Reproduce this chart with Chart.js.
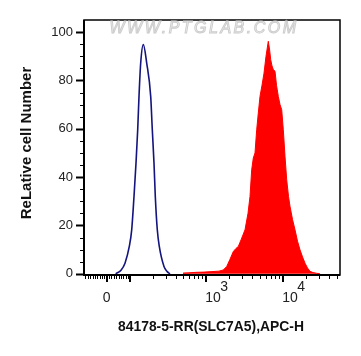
<!DOCTYPE html>
<html>
<head>
<meta charset="utf-8">
<script src="https://cdn.jsdelivr.net/npm/chart.js@4.4.1/dist/chart.umd.min.js"></script>
<style>
	body { margin: 0; background: #fff; }
	#wrap { width: 361px; height: 356px; }
</style>
</head>
<body>
<div id="wrap"><canvas id="canvas01" width="361" height="356"></canvas></div>
<script>
//x values are display channels (0..256) of the biexponential APC-H axis
var controlX = [31.7, 37, 41, 45.3, 47.7, 50, 52, 53.7, 55, 56.7, 59.3, 62.7, 66.7, 68.3, 70, 71.3, 73.3, 75.3, 80, 83, 86];
var controlY = [0, 1.5, 4.4, 11.3, 18.2, 32, 45.8, 59.6, 73.4, 87.2, 94.8, 87.2, 73.4, 59.6, 45.8, 32, 18.2, 11.3, 3, 1, 0];

var stainedX = [99, 105, 112, 120, 128, 135, 139.3, 142.7, 146, 149.3,
	152, 154.3, 157, 161, 164, 166, 167.7, 169.3, 171, 172.7,
	174.3, 176, 178, 180, 182, 184.3, 185.5, 186.7, 188, 189.3,
	191, 192.5, 194.3, 196, 197.7, 199.3, 201, 202.7, 204.5, 206,
	208.5, 211, 213.5, 216, 218.5, 221, 223.5, 226, 229, 232.7, 236];
var stainedY = [0.3, 0.4, 0.6, 0.7, 0.9, 1.1, 1.6, 3, 6, 9.2,
	10.5, 11.3, 14, 18.2, 25, 32, 43, 47.9, 50, 59.6,
	66.5, 73.4, 78, 83, 90, 96.2, 93, 88.6, 86, 84.5,
	83.8, 78, 73.4, 70, 67.9, 59.6, 48.6, 38.9, 32, 27.9,
	22.5, 18.2, 13.5, 9.9, 7, 4.4, 2.4, 1, 0.5, 0.2, 0];

var yTicks = [0, 20, 40, 60, 80, 100];
var xMajorValues = [0, 100, 1000, 10000];
var xMajorLabels = [['0', ''], ['', ''], ['10', '3'], ['10', '4']];

//fluorescence value -> display channel
function toChannel(v) {
	if (v >= 10000) {
		return 198.7 + Math.log10(v / 10000) * 77;
	}
	if (v >= 1000) {
		return 121.7 + Math.log10(v / 1000) * 77;
	}
	if (v >= 100) {
		return 46.3 + Math.log10(v / 100) * 75.4;
	}
	return 22.7 + v * 0.236;
}

function points(xs, ys) {
	var out = [];
	for (var i = 0; i < xs.length; i++) {
		out.push({x: xs[i], y: ys[i]});
	}
	return out;
}

var FONT = '"Liberation Sans", Arial, sans-serif';

var axesPlugin = {
	id: 'flowAxes',
	beforeDraw: function(chart) {
		var ctx = chart.ctx;
		ctx.save();
		ctx.fillStyle = '#fff';
		ctx.fillRect(0, 0, chart.width, chart.height);
		ctx.restore();
	},
	afterDraw: function(chart) {
		var ctx = chart.ctx;
		var area = chart.chartArea;
		var xs = chart.scales.x, ys = chart.scales.y;
		ctx.save();
		ctx.letterSpacing = '0px';

		//frame
		ctx.strokeStyle = '#000';
		ctx.lineWidth = 1.5;
		ctx.strokeRect(area.left, area.top, area.right - area.left, area.bottom - area.top);
		ctx.lineWidth = 2;
		ctx.beginPath();
		ctx.moveTo(area.left, area.top);
		ctx.lineTo(area.left, area.bottom);
		ctx.lineTo(area.right, area.bottom);
		ctx.stroke();

		//y ticks, minor every 5
		for (var v = 0; v <= 100; v += 5) {
			var py = Math.round(ys.getPixelForValue(v)) + 0.5;
			var major = (v % 20 === 0);
			ctx.lineWidth = major ? 2 : 1;
			ctx.beginPath();
			ctx.moveTo(area.left, py);
			ctx.lineTo(area.left - (major ? 8 : 4), py);
			ctx.stroke();
		}
		ctx.fillStyle = '#222';
		ctx.font = '13px ' + FONT;
		ctx.textAlign = 'right';
		ctx.textBaseline = 'middle';
		for (var i = 0; i < yTicks.length; i++) {
			ctx.fillText(String(yTicks[i]), 73, ys.getPixelForValue(yTicks[i]));
		}

		//x ticks: minor ticks at 1..9 of each decade, mirrored below zero
		var minor = [];
		for (var k = 1; k <= 9; k++) {
			minor.push(k * 10, -k * 10, k * 100, k * 1000, k * 10000);
		}
		ctx.lineWidth = 1;
		for (i = 0; i < minor.length; i++) {
			var c = toChannel(minor[i]);
			if (c < 0.5 || c > 255.5) {
				continue;
			}
			var px = Math.round(xs.getPixelForValue(c)) + 0.5;
			ctx.beginPath();
			ctx.moveTo(px, area.bottom);
			ctx.lineTo(px, area.bottom + 4);
			ctx.stroke();
		}
		ctx.lineWidth = 2;
		for (i = 0; i < xMajorValues.length; i++) {
			var mx = Math.round(xs.getPixelForValue(toChannel(xMajorValues[i])));
			ctx.beginPath();
			ctx.moveTo(mx, area.bottom);
			ctx.lineTo(mx, area.bottom + 7);
			ctx.stroke();
		}

		//x tick labels with superscript exponents
		ctx.font = '14px ' + FONT;
		ctx.textBaseline = 'middle';
		for (i = 0; i < xMajorValues.length; i++) {
			var base = xMajorLabels[i][0], sup = xMajorLabels[i][1];
			if (!base) {
				continue;
			}
			var lx = xs.getPixelForValue(toChannel(xMajorValues[i]));
			if (!sup) {
				ctx.textAlign = 'center';
				ctx.fillText(base, lx, 298);
				continue;
			}
			ctx.textAlign = 'left';
			var left = lx - 0.5;
			ctx.fillText(base, left, 298);
			ctx.fillText(sup, left + ctx.measureText(base).width - 0.5, 287);
		}

		//axis titles
		ctx.fillStyle = '#111';
		ctx.font = 'bold 15px ' + FONT;
		ctx.textAlign = 'center';
		ctx.textBaseline = 'middle';
		var title = '84178-5-RR(SLC7A5),APC-H';
		var sx = 186 / ctx.measureText(title).width;
		ctx.save();
		ctx.translate(211, 327);
		ctx.scale(sx, 1);
		ctx.fillText(title, 0, 0);
		ctx.restore();

		ctx.save();
		ctx.translate(27, 143);
		ctx.rotate(-Math.PI / 2);
		ctx.fillText('ReLative cell Number', 0, 0);
		ctx.restore();

		//watermark, hollow light grey letters
		ctx.font = 'italic 16px ' + FONT;
		ctx.textAlign = 'center';
		ctx.letterSpacing = '2.5px';
		ctx.fillStyle = '#fafafa';
		ctx.strokeStyle = '#cdcdcd';
		ctx.lineWidth = 1;
		ctx.fillText('WWW.PTGLAB.COM', 204, 28.5);
		ctx.strokeText('WWW.PTGLAB.COM', 204, 28.5);

		ctx.restore();
	}
};

var chart = new Chart(document.getElementById('canvas01'), {
	type: 'line',
	data: {
		datasets: [
		{
			data: points(stainedX, stainedY),
			borderColor: '#ff0000',
			backgroundColor: '#ff0000',
			borderWidth: 1,
			fill: 'origin',
			pointRadius: 0,
			tension: 0
		},
		{
			data: points(controlX, controlY),
			borderColor: '#14147f',
			borderWidth: 1.6,
			fill: false,
			pointRadius: 0,
			cubicInterpolationMode: 'monotone'
		}
		]
	},
	options: {
		responsive: false,
		animation: false,
		layout: { padding: { left: 84, top: 20, right: 21, bottom: 81 } },
		scales: {
			x: { type: 'linear', min: 0, max: 256, display: false },
			y: { type: 'linear', min: -0.5, max: 105, display: false }
		},
		plugins: {
			legend: { display: false },
			tooltip: { enabled: false }
		}
	},
	plugins: [axesPlugin]
});
</script>
</body>
</html>
